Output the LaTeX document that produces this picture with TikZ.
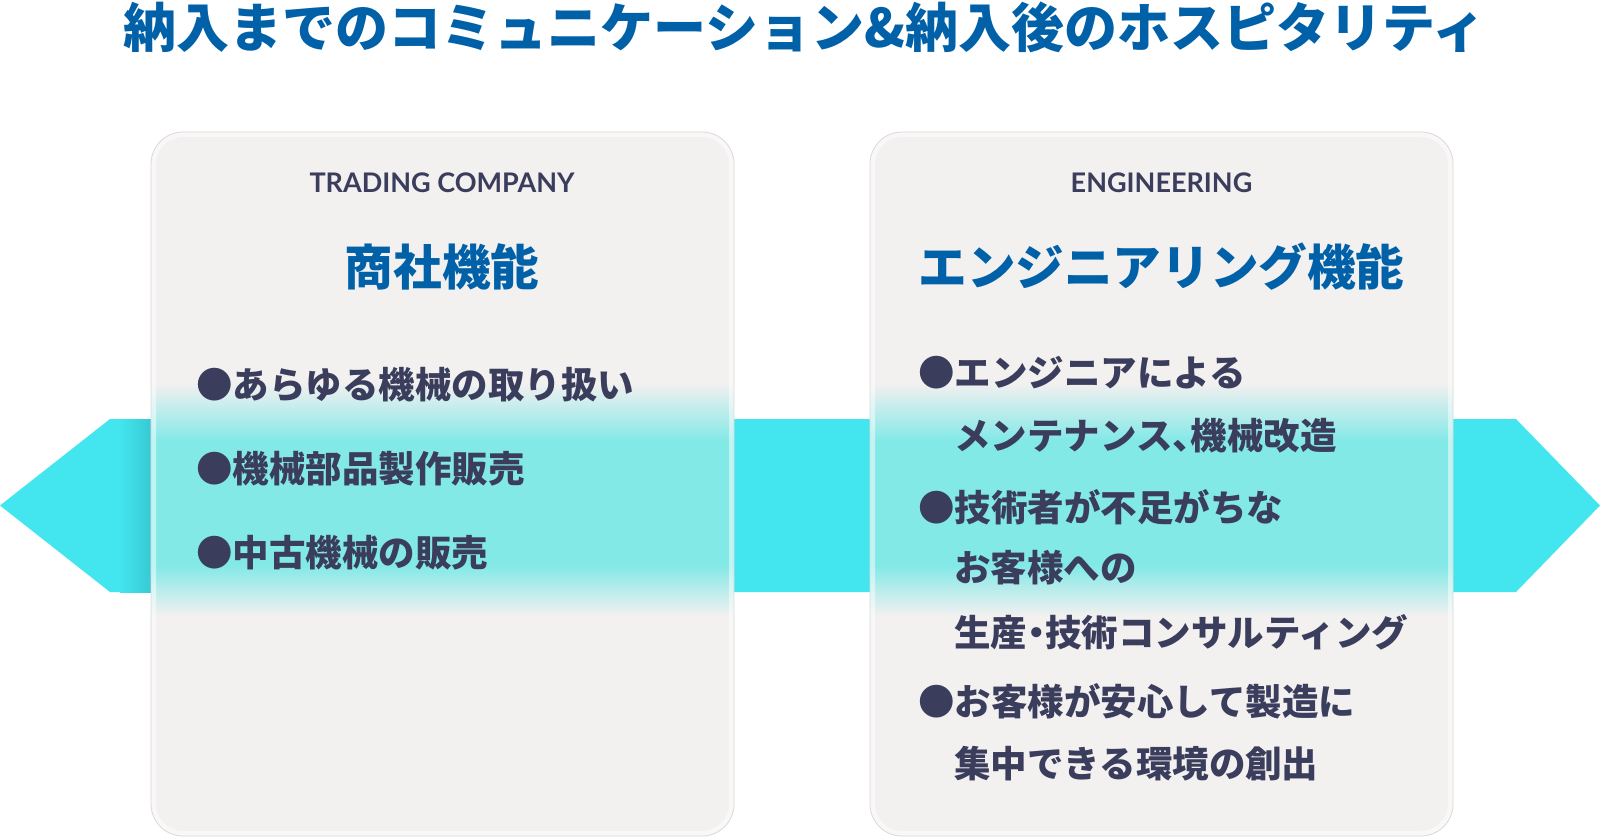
\documentclass[tikz,border=0pt]{standalone}
\usepackage{fontspec}
\newfontfamily\jp{Noto Sans CJK JP}
\newfontfamily\jph{Noto Sans CJK JP}[RawFeature=+halt]
\newfontfamily\jpblack{Noto Sans CJK JP Black}
\newfontfamily\lat{Lato}
\definecolor{bandc}{HTML}{43E6EE}
\definecolor{bandsh}{HTML}{36C9D3}
\definecolor{tintc}{HTML}{82E9E7}
\definecolor{cardc}{HTML}{F3F0F0}
\definecolor{navy}{HTML}{3A3D5C}
\definecolor{titleblue}{HTML}{0061A8}
\tikzset{
  titletext/.style={font=\jpblack\fontsize{53}{56}\selectfont, text=titleblue, inner sep=0pt},
  eng/.style={font=\lat\bfseries\fontsize{27}{32}\selectfont, text=navy, inner sep=0pt},
  heading/.style={font=\jp\bfseries\fontsize{48.6}{52}\selectfont, text=titleblue, inner sep=0pt},
  item/.style={font=\jp\bfseries\fontsize{36.5}{40}\selectfont, text=navy, inner sep=0pt, anchor=west},
  rim/.style={fill=white, fill opacity=0.5, even odd rule},
  edge/.style={draw=black!15, line width=0.8pt}
}
\newcommand{\mycardbg}[2]{%
  \begin{scope}
    \clip[rounded corners=32] (#1,132) rectangle (#2,836);
    \fill[cardc] (#1,132) rectangle (#2,836);
    \shade[top color=cardc, bottom color=tintc] (#1,383) rectangle (#2,441);
    \fill[tintc] (#1,440) rectangle (#2,566);
    \shade[top color=tintc, bottom color=cardc] (#1,565) rectangle (#2,616);
  \end{scope}
  \fill[rim, rounded corners=32] (#1,132) rectangle (#2,836)
    [rounded corners=27] ({#1+5},137) rectangle ({#2-5},831);
  \draw[edge, rounded corners=32] (#1,132) rectangle (#2,836);
}
\begin{document}
\begin{tikzpicture}[x=1pt, y=-1pt]
\useasboundingbox (0,0) rectangle (1600,838);
\fill[white] (0,0) rectangle (1600,838);
% band (double arrow)
\fill[bandc] (0,505.5) -- (110,419) -- (1516,419) -- (1600,505.5) -- (1516,592) -- (110,592) -- cycle;
\shade[left color=bandc, right color=bandsh] (120,419) rectangle (151,592);
% cards
\mycardbg{151}{734}
\mycardbg{870}{1453}
% title
\node[titletext] (title) at (804.5,27) {納入までのコミュニケーション\&納入後のホスピタリティ};
% left card
\node[eng] (engL) at (442,183) {TRADING COMPANY};
\node[heading] (headL) at (442,267) {商社機能};
\node[item] (l1) at (196,385) {●あらゆる機械の取り扱い};
\node[item] (l2) at (196,469) {●機械部品製作販売};
\node[item] (l3) at (196,553) {●中古機械の販売};
% right card
\node[eng] (engR) at (1161.5,183) {ENGINEERING};
\node[heading] (headR) at (1161.5,267) {エンジニアリング機能};
\node[item] (r1) at (918,373) {●エンジニアによる};
\node[item] (r1b) at (954,436) {メンテナンス{\jph 、}機械改造};
\node[item] (r2) at (918,507) {●技術者が不足がちな};
\node[item] (r2b) at (954,568) {お客様への};
\node[item] (r2c) at (954,632) {生産{\jph ・}技術コンサルティング};
\node[item] (r3) at (918,701) {●お客様が安心して製造に};
\node[item] (r3b) at (954,764) {集中できる環境の創出};
\end{tikzpicture}
\end{document}
